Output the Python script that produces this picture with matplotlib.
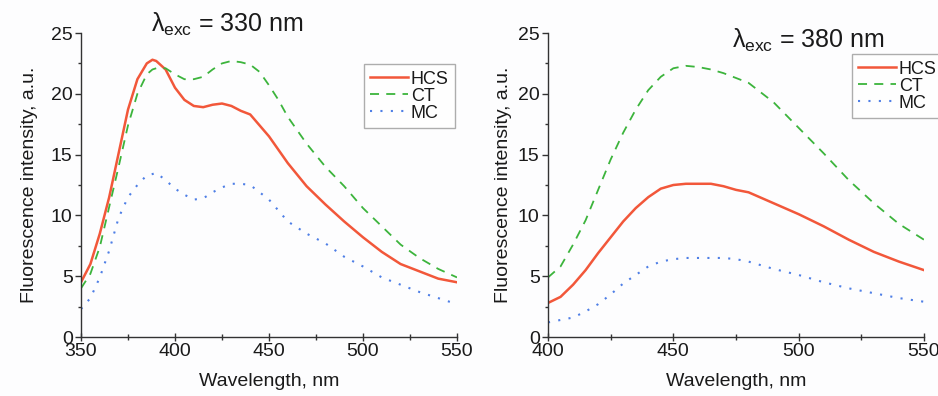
import matplotlib.pyplot as plt
from matplotlib.ticker import MultipleLocator

plt.rcParams['font.family'] = ['Liberation Sans', 'DejaVu Sans']
plt.rcParams['mathtext.fontset'] = 'custom'
plt.rcParams['mathtext.rm'] = 'Liberation Sans'
plt.rcParams['mathtext.it'] = 'Liberation Sans'

# excitation 330 nm
wl_330 = [350, 355, 360, 365, 370, 375, 380, 385, 388, 390, 395, 400, 405, 410, 415,
          420, 425, 430, 435, 440, 445, 450, 455, 460, 470, 480, 490, 500, 510, 520,
          530, 540, 550]
hcs_330 = [4.5, 6.0, 8.5, 11.5, 15.1, 18.7, 21.2, 22.5, 22.8, 22.7, 22.0, 20.5, 19.5, 19.0, 18.9,
           19.1, 19.2, 19.0, 18.6, 18.3, 17.4, 16.5, 15.4, 14.3, 12.4, 10.9, 9.5, 8.2, 7.0, 6.0,
           5.4, 4.8, 4.5]
ct_330 = [4.0, 5.2, 7.4, 10.7, 14.0, 17.4, 20.0, 21.6, 22.0, 22.1, 22.1, 21.6, 21.2, 21.2, 21.4,
          22.0, 22.5, 22.7, 22.6, 22.4, 21.8, 20.7, 19.5, 18.1, 15.9, 14.0, 12.4, 10.6, 9.1, 7.6,
          6.5, 5.6, 4.9]
mc_330 = [2.3, 3.2, 4.9, 7.1, 9.8, 11.5, 12.5, 13.3, 13.4, 13.5, 12.9, 12.2, 11.7, 11.3, 11.4,
          11.9, 12.3, 12.6, 12.6, 12.5, 11.9, 11.3, 10.4, 9.5, 8.5, 7.7, 6.6, 5.8, 4.9, 4.3,
          3.7, 3.2, 2.7]

# excitation 380 nm
wl_380 = [400, 405, 410, 415, 420, 425, 430, 435, 440, 445, 450, 455, 460, 465, 470,
          475, 480, 490, 500, 510, 520, 530, 540, 550]
hcs_380 = [2.8, 3.3, 4.3, 5.5, 6.9, 8.2, 9.5, 10.6, 11.5, 12.2, 12.5, 12.6, 12.6, 12.6, 12.4,
           12.1, 11.9, 11.0, 10.1, 9.1, 8.0, 7.0, 6.2, 5.5]
ct_380 = [4.9, 5.8, 7.6, 9.6, 12.1, 14.6, 16.8, 18.7, 20.3, 21.4, 22.1, 22.3, 22.2, 22.0, 21.7,
          21.3, 20.9, 19.3, 17.2, 15.1, 12.9, 11.0, 9.3, 8.0]
mc_380 = [1.2, 1.4, 1.6, 2.1, 2.7, 3.5, 4.4, 5.1, 5.8, 6.2, 6.4, 6.5, 6.5, 6.5, 6.5,
          6.4, 6.2, 5.6, 5.1, 4.5, 4.0, 3.6, 3.2, 2.9]

labels = ['HCS', 'CT', 'MC']
red = '#f2573a'
green = '#3cb43c'
blue = '#4f7fe6'
text_col = '#1a1a1a'

fig = plt.figure(figsize=(9.38, 3.96), dpi=100)
fig.patch.set_facecolor('#fdfdfe')

left = fig.add_axes([81 / 938, 1 - 337 / 396, 376 / 938, 304 / 396])
right = fig.add_axes([548 / 938, 1 - 337 / 396, 376 / 938, 304 / 396])


def style(ax, xmin, xmax, ypad):
    ax.set_facecolor('#fdfdfe')
    ax.set_xlim(xmin, xmax)
    ax.set_ylim(0, 25)
    ax.spines['top'].set_visible(False)
    ax.spines['right'].set_visible(False)
    for s in ['left', 'bottom']:
        ax.spines[s].set_color('#333333')
        ax.spines[s].set_linewidth(1.0)
    ax.xaxis.set_major_locator(MultipleLocator(50))
    ax.xaxis.set_minor_locator(MultipleLocator(25))
    ax.yaxis.set_major_locator(MultipleLocator(5))
    ax.yaxis.set_minor_locator(MultipleLocator(2.5))
    ax.tick_params(axis='x', which='major', direction='inout', length=6, width=1,
                   colors='#333333', labelsize=14, labelcolor=text_col, pad=1)
    ax.tick_params(axis='x', which='minor', direction='inout', length=4, width=1,
                   colors='#333333')
    ax.tick_params(axis='y', which='major', direction='out', length=4, width=1,
                   colors='#333333', labelsize=14, labelcolor=text_col, pad=2)
    ax.tick_params(axis='y', which='minor', direction='out', length=2, width=1,
                   colors='#333333')
    ax.set_xlabel('Wavelength, nm', fontsize=14, color=text_col, labelpad=10)
    ax.set_ylabel('Fluorescence intensity, a.u.', fontsize=14, color=text_col, labelpad=ypad)


left.plot(wl_330, hcs_330, color=red, lw=1.8, label=labels[0])
left.plot(wl_330, ct_330, color=green, lw=1.3, ls=(0, (5, 4)), label=labels[1])
left.plot(wl_330, mc_330, color=blue, lw=1.5, ls=(0, (1, 4)), label=labels[2])
style(left, 350, 550, 9)

right.plot(wl_380, hcs_380, color=red, lw=1.8, label=labels[0])
right.plot(wl_380, ct_380, color=green, lw=1.3, ls=(0, (5, 4)), label=labels[1])
right.plot(wl_380, mc_380, color=blue, lw=1.5, ls=(0, (1, 4)), label=labels[2])
style(right, 400, 550, 4)

for ax, pos in [(left, (364 / 938, 1 - 128 / 396)), (right, (852 / 938, 1 - 118 / 396))]:
    leg = ax.legend(loc='lower left', bbox_to_anchor=pos, bbox_transform=fig.transFigure,
                    fontsize=13, frameon=True, fancybox=False, handlelength=2.1,
                    handletextpad=0.15, borderpad=0.35, labelspacing=0.0,
                    borderaxespad=0)
    leg.get_frame().set_edgecolor('#999999')
    leg.get_frame().set_linewidth(1.0)
    for t in leg.get_texts():
        t.set_color(text_col)

fig.text(227 / 938, 1 - 24 / 396, r'$\lambda_{\rm exc}$ = 330 nm', ha='center', va='center',
         fontsize=18, color=text_col)
fig.text(808 / 938, 1 - 40 / 396, r'$\lambda_{\rm exc}$ = 380 nm', ha='center', va='center',
         fontsize=18, color=text_col)

fig.savefig('out.png', dpi=100, facecolor=fig.get_facecolor())
